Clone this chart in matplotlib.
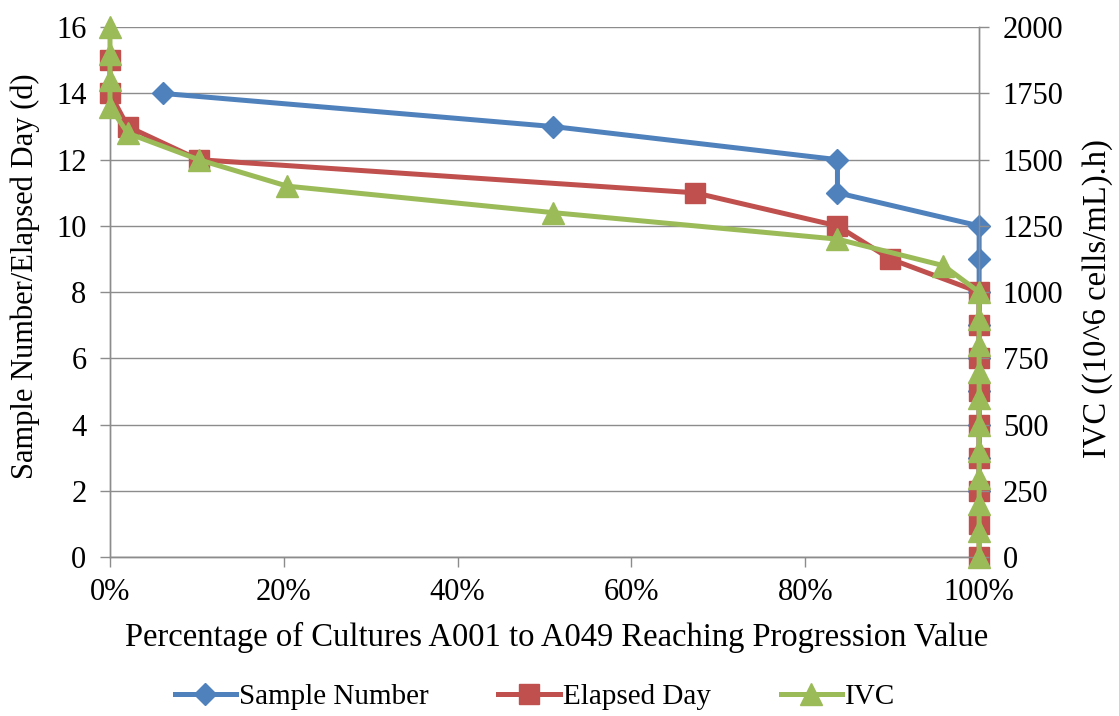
import matplotlib
matplotlib.use("Agg")
import matplotlib.pyplot as plt
from matplotlib.ticker import FuncFormatter
from matplotlib.lines import Line2D

plt.rcParams['font.family'] = ['Liberation Serif', 'DejaVu Serif']

# Percentage of cultures (A001-A049) reaching each progression value
sample_pct = [6.1, 51.0, 83.7, 83.7, 100, 100, 100, 100, 100, 100, 100, 100, 100]
sample_num = [14, 13, 12, 11, 10, 9, 8, 7, 6, 5, 4, 3, 2]

elapsed_pct = [0, 0, 2.04, 10.2, 67.3, 83.7, 89.8,
               100, 100, 100, 100, 100, 100, 100, 100, 100]
elapsed_day = [15, 14, 13, 12, 11, 10, 9, 8, 7, 6, 5, 4, 3, 2, 1, 0]

ivc_pct = [0, 0, 0, 0, 2.04, 10.2, 20.4, 51.0, 83.7, 95.9,
           100, 100, 100, 100, 100, 100, 100, 100, 100, 100, 100]
ivc_val = [2000, 1900, 1800, 1700, 1600, 1500, 1400, 1300, 1200, 1100,
           1000, 900, 800, 700, 600, 500, 400, 300, 200, 100, 0]

x_ticks = [0, 20, 40, 60, 80, 100]
left_ticks = list(range(0, 17, 2))
right_ticks = list(range(0, 2001, 250))

BLUE = '#4F81BD'
RED = '#C0504D'
GREEN = '#9BBB59'
GRID = '#8C8C8C'
FS_TICK = 22
FS_XLABEL = 23.5
FS_YLABEL = 22
FS_Y2LABEL = 23.5
FS_LEG = 21

fig = plt.figure(figsize=(11.19, 7.16), dpi=100)
ax = fig.add_axes([0.0983, 0.222, 0.7767, 0.740])
ax2 = ax.twinx()

ax.plot(sample_pct, sample_num, color=BLUE, lw=3.6, marker='D', ms=11.5,
        clip_on=False, zorder=3)
ax.plot(elapsed_pct, elapsed_day, color=RED, lw=3.6, marker='s', ms=15,
        clip_on=False, zorder=4)
ax2.plot(ivc_pct, ivc_val, color=GREEN, lw=3.6, marker='^', ms=16,
         clip_on=False, zorder=5)

ax.set_xlim(0, 100)
ax.set_ylim(0, 16)
ax2.set_ylim(0, 2000)
ax.set_xticks(x_ticks)
ax.set_yticks(left_ticks)
ax2.set_yticks(right_ticks)
ax.xaxis.set_major_formatter(FuncFormatter(lambda v, p: f"{v:.0f}%"))

ax.grid(axis='y', color=GRID, lw=1.0)
ax.set_axisbelow(True)

for a in (ax, ax2):
    for s in a.spines.values():
        s.set_color(GRID)
        s.set_linewidth(1.0)
    a.spines['top'].set_visible(False)
    a.tick_params(colors=GRID, labelcolor='black', labelsize=FS_TICK,
                  direction='out', length=7, width=1.0)
ax.tick_params(axis='x', pad=8)
ax.tick_params(axis='y', pad=10)
ax2.tick_params(axis='y', pad=10)

ax.set_xlabel('Percentage of Cultures A001 to A049 Reaching Progression Value',
              fontsize=FS_XLABEL, va='center')
ax.xaxis.set_label_coords(0.514, -0.151)
ax.set_ylabel('Sample Number/Elapsed Day (d)', fontsize=FS_YLABEL, va='center')
ax.yaxis.set_label_coords(-0.097, 0.53)
ax2.set_ylabel('IVC ((10^6 cells/mL).h)', fontsize=FS_Y2LABEL, va='center')
ax2.yaxis.set_label_coords(1.136, 0.487)

handles = [
    Line2D([], [], color=BLUE, lw=3.6, marker='D', ms=11.5),
    Line2D([], [], color=RED, lw=3.6, marker='s', ms=15),
    Line2D([], [], color=GREEN, lw=3.6, marker='^', ms=16),
]
fig.legend(handles, ['Sample Number', 'Elapsed Day', 'IVC'],
           loc='center', bbox_to_anchor=(0.478, 0.027), ncol=3,
           frameon=False, fontsize=FS_LEG, handlelength=2.1, handletextpad=0.1,
           columnspacing=2.4)

fig.savefig('out.png', dpi=100)
